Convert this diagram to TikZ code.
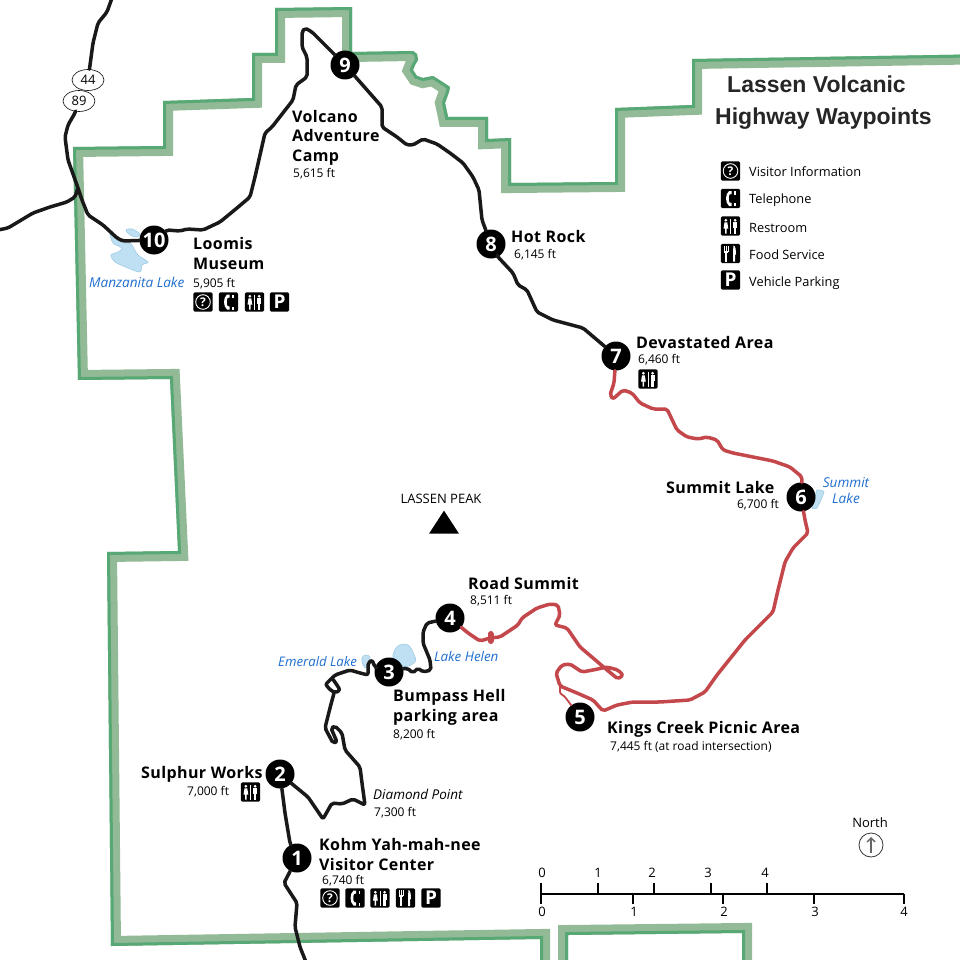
\documentclass[tikz,border=0pt]{standalone}
\usepackage{fontspec}
\setmainfont{Open Sans}
\newfontfamily\labfont[LetterSpace=2.5]{Open Sans Bold}
\newfontfamily\titlefont{Liberation Sans Bold}
\usetikzlibrary{shapes.geometric,arrows.meta}
\definecolor{bandlight}{HTML}{93BA96}
\definecolor{banddark}{HTML}{57A874}
\definecolor{roadred}{HTML}{C4474B}
\definecolor{lakefill}{HTML}{BFE0F2}
\definecolor{lakeline}{HTML}{9CCBE6}
\definecolor{laketext}{HTML}{1F6FD0}
\def\parkline{(111,946) -- (107,552) -- (178,551) -- (170,379) -- (78,380) -- (73,147) -- (163,146) -- (163,101) -- (252,98) -- (252,53) -- (275,53) -- (275,8) -- (352,7) -- (352,52) -- (413,51) -- (417,54) -- (418,60) -- (415,65) -- (413,70) -- (417,76) -- (423,78) -- (433,76) -- (441,81) -- (450,87) -- (449,92) -- (445,103) -- (447,112) -- (448,117) -- (488,117) -- (488,139) -- (511,138) -- (511,183) -- (615,182) -- (615,108) -- (692,105) -- (692,59) -- (1000,54) -- (1000,1000) -- (742,1000) -- (742,933) -- (568,935) -- (568,1000) -- (540,1000) -- (540,939) -- cycle}
\tikzset{
  road/.style={line width=3.5pt,draw=black!90,rounded corners=2pt,line join=round,line cap=round},
  redroad/.style={road,draw=roadred},
  wpt/.style={circle,fill=black,minimum size=29pt,inner sep=0pt,text=white,font=\fontsize{20}{20}\bfseries},
  lab/.style={anchor=base west,inner sep=0pt,align=left,font=\labfont\fontsize{16}{19.5}\selectfont},
  elev/.style={anchor=base west,inner sep=0pt,font=\fontsize{12}{14}\selectfont},
  lakename/.style={anchor=base west,inner sep=0pt,text=laketext,font=\fontsize{13.6}{16}\selectfont\itshape},
  lakeshape/.style={fill=lakefill,draw=lakeline,line width=.6pt},
  legendtext/.style={anchor=base west,inner sep=0pt,font=\fontsize{12.8}{15}\selectfont},
  scaletext/.style={anchor=base,inner sep=0pt,font=\fontsize{13}{15}\selectfont},
  shield/.style={ellipse,draw=black,fill=white,line width=.6pt,minimum width=32pt,minimum height=21pt,inner sep=0pt,font=\fontsize{13}{15}\selectfont},
  tick/.style={line width=1.2pt,draw=black},
  iconbg/.pic={\fill[black,rounded corners=1.5pt] (-9.7,-9.7) rectangle (9.7,9.7);},
  iconinfo/.pic={\pic{iconbg};\draw[white,line width=.9pt] (0,0) circle (7.3);\node[text=white,inner sep=0pt,font=\fontsize{12}{12}\bfseries] (-q) at (0,0) {?};},
  iconphone/.pic={\pic{iconbg};\fill[white] (-1.5,-7.5) .. controls (-5.5,-4) and (-5.5,4) .. (-1.5,7.5) -- (1,7.5) -- (1,4.5) -- (-1,4) .. controls (-2,2) and (-2,-2) .. (-1,-4) -- (1,-4.5) -- (1,-7.5) -- cycle;\fill[white] (3.5,-7.5) rectangle (5,-4);\fill[white] (3.5,4.5) rectangle (5,7.5);},
  iconrest/.pic={\pic{iconbg};\fill[white] (-4.6,-5.7) circle (1.5);\fill[white] (4.6,-5.7) circle (1.5);\fill[white] (-6,-3.6) -- (-3.2,-3.6) -- (-2.2,2.5) -- (-3.8,2.5) -- (-3.8,7.5) -- (-5.4,7.5) -- (-5.4,2.5) -- (-7,2.5) -- cycle;\fill[white] (2.6,-3.6) rectangle (6.6,2);\fill[white] (3.4,2) rectangle (5.8,7.5);\draw[white,line width=.8pt] (0,-7.5) -- (0,7.5);},
  iconfood/.pic={\pic{iconbg};\fill[white] (-6.5,-8) rectangle (-5.7,-2);\fill[white] (-4.7,-8) rectangle (-3.9,-2);\fill[white] (-2.9,-8) rectangle (-2.1,-2);\fill[white] (-6.5,-3) rectangle (-2.1,-1);\fill[white] (-5.2,-1) rectangle (-3.4,8);\fill[white] (2.5,8) -- (2.5,-2) -- (3,-8) .. controls (5,-8) and (5.5,-3) .. (5.5,1) -- (4.5,1) -- (4.5,8) -- cycle;},
  iconpark/.pic={\pic{iconbg};\node[text=white,inner sep=0pt,font=\fontsize{19}{19}\bfseries] (-p) at (0,0) {P};},
}
\begin{document}
\begin{tikzpicture}[x=1pt,y=-1pt]
\useasboundingbox (0,0) rectangle (960,960);
\fill[white] (0,0) rectangle (960,960);
% park boundary: light band inside the dark outer edge
\begin{scope}
\clip \parkline;
\draw[bandlight,line width=20pt] \parkline;
\draw[banddark,line width=6pt] \parkline;
\end{scope}
% lakes
\fill[lakeshape] plot[smooth cycle,tension=.5] coordinates {(110,233) (118,241) (126,243) (131,244) (138,255) (148,262) (142,265) (140,272) (128,268) (115,262) (111,255) (118,252) (122,248) (113,243)};
\fill[lakeshape] plot[smooth cycle,tension=.5] coordinates {(126,230) (132,229) (140,234) (137,237) (130,235)};
\fill[lakeshape] plot[smooth cycle,tension=.7] coordinates {(393,655) (398,646) (408,645) (414,655) (415,662) (403,667) (395,660)};
\fill[lakeshape] plot[smooth cycle,tension=.7] coordinates {(362,658) (366,655) (370,658) (367,668) (363,665)};
\fill[lakeshape] plot[smooth cycle,tension=.3] coordinates {(817,490) (824,492) (817,508) (812,508) (815,498)};
% waypoints
\node[wpt] (n1) at (297,858) {1};
\node[wpt] (n2) at (280,774) {2};
\node[wpt] (n3) at (389,672) {3};
\node[wpt] (n4) at (450,618) {4};
\node[wpt] (n5) at (580,717) {5};
\node[wpt] (n6) at (801,497) {6};
\node[wpt] (n7) at (616,356) {7};
\node[wpt] (n8) at (491,244) {8};
\node[wpt] (n9) at (345,65) {9};
\node[wpt] (n10) at (154,240) {10};
\node[shield] (s44) at (88,80) {44};
\node[shield] (s89) at (79,101) {89};
\coordinate (northend) at (112,-2);
\coordinate (westend) at (-2,230);
\coordinate (junction) at (78,188);
\coordinate (southend) at (306,962);
\coordinate (fork) at (560,686);
% roads
\draw[road] (northend) -- (107,12) -- (98,23) -- (93,43) -- (s44);
\draw[road] (s89) -- (75,113) -- (68,125) -- (65,137) -- (68,160) -- (junction) -- (82,200) -- (88,215) -- (103,225) -- (117,238) -- (123,241) -- (n10);
\draw[road] (westend) -- (8,228) -- (33,213) -- (50,207) -- (67,202) -- (75,197) -- (junction);
\draw[road] (n10) -- (167,230) -- (180,231) -- (187,229) -- (203,230) -- (220,222) -- (237,208) -- (250,197) -- (255,177) -- (265,133) -- (272,127) -- (293,100) -- (296,85) -- (307,77) -- (307,57) -- (302,47) -- (302,32) -- (305,28) -- (312,32) -- (320,40) -- (n9);
\draw[road] (n9) -- (382,107) -- (382,127) -- (397,137) -- (407,145) -- (413,145) -- (423,139) -- (437,144) -- (450,153) -- (463,163) -- (473,177) -- (479,190) -- (482,220) -- (n8);
\draw[road] (n8) -- (498,257) -- (513,273) -- (518,285) -- (527,290) -- (537,312) -- (553,320) -- (583,328) -- (n7);
\draw[redroad] (n7) -- (614,383) -- (610,395) -- (613,399) -- (623,390) -- (632,393) -- (640,403) -- (653,409) -- (667,409) -- (677,430) -- (687,437) -- (698,439) -- (707,437) -- (717,440) -- (723,450) -- (733,453) -- (773,461) -- (790,467) -- (802,477) -- (n6);
\draw[redroad] (n6) -- (805,520) -- (808,533) -- (793,548) -- (785,562) -- (778,590) -- (773,612) -- (745,640) -- (717,675) -- (705,692) -- (690,700) -- (660,702) -- (633,702) -- (617,705) -- (603,711) -- (593,700) -- (577,693) -- (fork) -- (556,673) -- (562,665) -- (570,664) -- (582,672) -- (593,670) -- (607,667) -- (618,670) -- (623,675) -- (618,679) -- (607,670) -- (593,658) -- (580,647) -- (567,628) -- (555,625) -- (560,615) -- (558,605) -- (550,604) -- (537,608) -- (522,618) -- (518,625) -- (500,637) -- (490,638) -- (480,641) -- (468,633) -- (n4);
\draw[roadred,line width=6pt,line cap=round] (490.5,634) -- (490.5,641);
\draw[redroad,line width=1.8pt,rounded corners=1pt] (fork) -- (560,693) -- (565,697) -- (n5);
\draw[road] (n4) -- (427,623) -- (423,632) -- (423,643) -- (430,660) -- (431,670) -- (423,672) -- (418,668) -- (413,673) -- (407,668) -- (n3);
\draw[road] (n3) -- (375,667) -- (372,660) -- (368,663) -- (368,675) -- (360,673) -- (350,670) -- (335,675) -- (326,684) -- (332,678) -- (337,685) -- (340,690) -- (335,693) -- (328,688) -- (326,684);
\draw[road] (334,693) -- (330,708) -- (325,728) -- (333,743) -- (337,742) -- (331,728) -- (335,726) -- (342,733) -- (345,750) -- (360,767) -- (362,783) -- (365,805) -- (353,799) -- (342,804) -- (332,803) -- (323,819) -- (308,797) -- (n2);
\draw[road] (n2) -- (285,813) -- (290,843) -- (n1);
\draw[road] (n1) -- (284,883) -- (297,903) -- (295,927) -- (300,947) -- (southend);
% labels
\node[lab] (lVolcano) at (292,161) {Volcano\\Adventure\\Camp};
\node[elev] (eVolcano) at (293,178) {5,615 ft};
\node[lab] (lLoomis) at (193,269) {Loomis\\Museum};
\node[elev] (eLoomis) at (193,287) {5,905 ft};
\node[lakename] (tManz) at (89,287) {Manzanita Lake};
\node[lab] (lHot) at (511,242) {Hot Rock};
\node[elev] (eHot) at (514,258) {6,145 ft};
\node[lab] (lDev) at (636,348) {Devastated Area};
\node[elev] (eDev) at (638,363) {6,460 ft};
\node[lab] (lSum) at (666,493) {Summit Lake};
\node[elev,anchor=base east] (eSum) at (779,508) {6,700 ft};
\node[lakename,anchor=base] (tSum1) at (846,487) {Summit};
\node[lakename,anchor=base] (tSum2) at (846,503) {Lake};
\node[lab] (lRoad) at (468,589) {Road Summit};
\node[elev] (eRoad) at (470,604) {8,511 ft};
\node[lakename,font=\fontsize{13.2}{15}\selectfont\itshape] (tEm) at (278,666) {Emerald Lake};
\node[lakename,font=\fontsize{13.4}{15}\selectfont\itshape] (tHel) at (434,661) {Lake Helen};
\node[lab] (lBump) at (393,721) {Bumpass Hell\\parking area};
\node[elev] (eBump) at (393,738) {8,200 ft};
\node[lab] (lKings) at (607,733) {Kings Creek Picnic Area};
\node[elev] (eKings) at (610,750) {7,445 ft (at road intersection)};
\node[lab] (lSul) at (141,778) {Sulphur Works};
\node[elev] (eSul) at (187,795) {7,000 ft};
\node[elev,font=\fontsize{13.5}{15}\selectfont\itshape] (tDia) at (373,799) {Diamond Point};
\node[elev] (eDia) at (374,816) {7,300 ft};
\node[lab] (lKohm) at (319,870) {Kohm Yah-mah-nee\\Visitor Center};
\node[elev] (eKohm) at (322,884) {6,740 ft};
\node[anchor=base,inner sep=0pt,font=\fontsize{13}{14}\selectfont] (tPeak) at (441,503) {LASSEN PEAK};
\node[isosceles triangle,isosceles triangle apex angle=66,shape border rotate=90,fill=black,inner sep=0pt,minimum height=23pt] (peak) at (444,525.5) {};
% title
\node[anchor=base west,inner sep=0pt,text=black!85,font=\titlefont\fontsize{23}{24}\selectfont] (t1) at (727,93) {Lassen Volcanic};
\node[anchor=base west,inner sep=0pt,text=black!85,font=\titlefont\fontsize{23}{24}\selectfont] (t2) at (715,125) {Highway Waypoints};
% legend
\pic (ki) at (730.5,171) {iconinfo};
\pic (kt) at (730.5,198.5) {iconphone};
\pic (kr) at (730.5,226) {iconrest};
\pic (kf) at (730.5,253.5) {iconfood};
\pic (kp) at (730.5,280) {iconpark};
\node[legendtext] (li) at (749,177) {Visitor Information};
\node[legendtext] (lt) at (749,204) {Telephone};
\node[legendtext] (lr) at (749,232) {Restroom};
\node[legendtext] (lf) at (749,259) {Food Service};
\node[legendtext] (lp) at (749,286) {Vehicle Parking};
% icons at the waypoints
\pic (a1) at (203,302) {iconinfo};
\pic (a2) at (228.5,302) {iconphone};
\pic (a3) at (254.5,302) {iconrest};
\pic (a4) at (279.5,302) {iconpark};
\pic (b1) at (648,379) {iconrest};
\pic (c1) at (250.5,792) {iconrest};
\pic (d1) at (330,898) {iconinfo};
\pic (d2) at (355,898) {iconphone};
\pic (d3) at (380,898) {iconrest};
\pic (d4) at (405.5,898) {iconfood};
\pic (d5) at (431,898) {iconpark};
% north
\node[scaletext] (tNorth) at (870,827) {North};
\node[circle,draw=black!80,line width=.8pt,minimum size=24pt,inner sep=0pt] (nc) at (871,845) {};
\draw[black!60,line width=1.4pt,-{Straight Barb[length=4pt,width=8pt]}] (871,853) -- (871,837);
% scale bar
\draw[tick] (541,894) -- (904,894);
\foreach \x/\t [count=\i] in {541/542,598/598,654/652,711/708,767/765}{
  \draw[tick] (\x,883) -- (\x,894);
  \node[scaletext] (st\i) at (\t,877) {\the\numexpr\i-1\relax};
}
\foreach \x/\t [count=\i] in {541/542,633/634,723/724,814/815,904/904}{
  \draw[tick] (\x,894) -- (\x,904);
  \node[scaletext] (sb\i) at (\t,916) {\the\numexpr\i-1\relax};
}
\end{tikzpicture}
\end{document}
